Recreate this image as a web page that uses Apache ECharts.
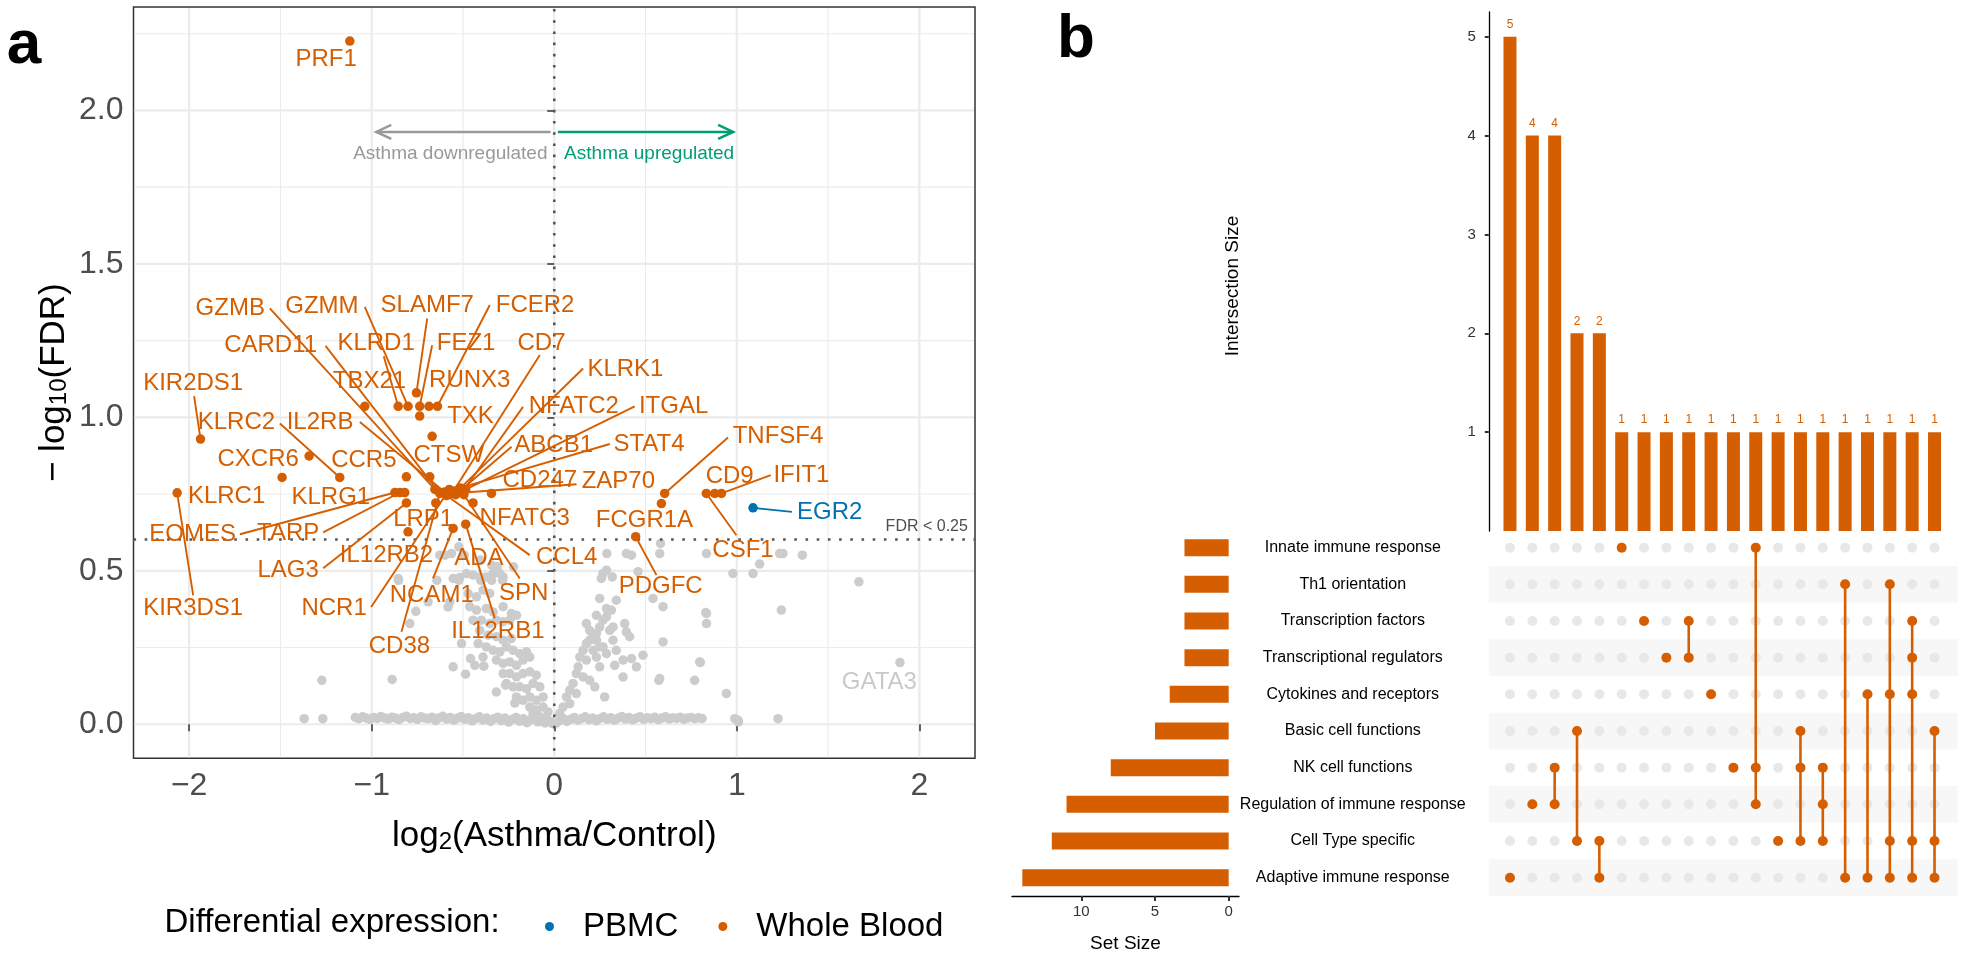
<!DOCTYPE html>
<html><head><meta charset="utf-8">
<script src="https://cdn.jsdelivr.net/npm/echarts@6/dist/echarts.min.js"></script>
<style>html,body{margin:0;padding:0;background:#fff}#c{width:1962px;height:956px}</style>
</head><body><div id="c"></div>
<script>
// ---------------- DATA: panel a (volcano) ----------------
const xTicks = [-2, -1, 0, 1, 2];
const yTicks = [0, 0.5, 1, 1.5, 2];
const fdrCutoff = 0.25;

// not significant genes (grey)
const grayPoints = [
  [1.894,0.201],
  [-0.481,0.491],[-0.445,0.486],[-0.408,0.480],[-0.372,0.480],[-0.335,0.491],[-0.298,0.491],[-0.280,0.480],
  [-0.472,0.426],[-0.426,0.415],[-0.390,0.437],[-0.353,0.426],
  [-0.463,0.383],[-0.426,0.372],[-0.372,0.377],[-0.335,0.366],[-0.280,0.383],[-0.235,0.361],[-0.207,0.355],
  [-0.445,0.339],[-0.399,0.339],[-0.353,0.328],[-0.317,0.339],[-0.280,0.334],[-0.244,0.339],
  [-0.408,0.306],[-0.362,0.290],[-0.317,0.285],[-0.280,0.274],[-0.235,0.279],
  [-0.372,0.252],[-0.335,0.241],[-0.298,0.236],[-0.262,0.252],[-0.225,0.241],[-0.189,0.230],[-0.152,0.236],
  [-0.317,0.209],[-0.280,0.198],[-0.244,0.203],[-0.207,0.192],[-0.171,0.209],[-0.134,0.219],
  [-0.280,0.165],[-0.244,0.165],[-0.207,0.154],[-0.171,0.165],[-0.134,0.171],[-0.098,0.160],
  [-0.262,0.133],[-0.225,0.122],[-0.189,0.122],[-0.152,0.116],[-0.116,0.133],[-0.079,0.122],
  [-0.207,0.089],[-0.171,0.078],[-0.134,0.089],[-0.098,0.078],[-0.061,0.089],
  [-0.134,0.056],[-0.098,0.046],[-0.061,0.056],[-0.034,0.040],
  [-0.116,0.035],[-0.079,0.024],[-0.043,0.018],[-0.016,0.008],
  [-0.888,0.146],[-0.554,0.187],[-0.486,0.163],[-0.459,0.214],[-0.435,0.192],[-0.390,0.219],[-0.386,0.189],
  [-0.317,0.105],[-0.267,0.127],[-0.216,0.069],[-0.508,0.263],[-0.417,0.263],[-0.758,0.368],[-0.791,0.328],
  [-0.855,0.475],[-0.691,0.399],[-0.582,0.382],[-0.572,0.399],[-0.627,0.551],[-0.563,0.556],[-0.554,0.475],
  [-0.518,0.478],[-1.273,0.143],
  [-0.598,0.551],[-0.523,0.578],[-0.493,0.551],[-0.403,0.535],[-0.343,0.518],[-0.313,0.513],[-0.223,0.513],
  [-0.853,0.469],[-0.643,0.469],[-0.523,0.469],[-0.403,0.469],[-0.343,0.469],[-0.283,0.469],
  [0.030,0.035],[0.048,0.056],[0.067,0.089],[0.085,0.111],[0.103,0.133],[0.121,0.165],[0.131,0.187],[0.140,0.219],
  [0.158,0.241],[0.176,0.263],[0.194,0.274],[0.213,0.285],[0.231,0.296],[0.249,0.317],[0.267,0.339],[0.286,0.350],
  [0.304,0.306],[0.322,0.317],[0.213,0.241],[0.231,0.219],[0.267,0.252],[0.286,0.230],[0.249,0.187],[0.322,0.274],
  [0.340,0.241],[0.176,0.209],[0.158,0.154],[0.194,0.143],[0.222,0.122],[0.121,0.100],[0.085,0.067],[0.176,0.328],
  [0.194,0.306],[0.231,0.274],[0.249,0.252],[0.331,0.192],[0.377,0.209],[0.423,0.214],[0.486,0.225],[0.377,0.154],
  [0.450,0.187],[0.386,0.328],[0.395,0.301],[0.413,0.285],[0.276,0.089],[0.578,0.149],[0.596,0.268],[0.797,0.203],
  [0.769,0.143],[0.943,0.100],[0.231,0.355],[0.286,0.377],[0.313,0.372],[0.340,0.404],[0.249,0.410],[0.267,0.491],
  [0.286,0.502],[0.395,0.556],[0.423,0.551],[0.459,0.497],[0.541,0.410],[0.596,0.383],[0.834,0.361],[0.834,0.328],
  [1.244,0.372],[1.226,0.018],[0.989,0.018],[1.007,0.013],[0.979,0.491],[1.089,0.491],[1.125,0.522],[0.834,0.556],
  [1.235,0.556],[1.253,0.556],[1.359,0.551],[0.578,0.556],[1.669,0.464],[0.582,0.589],[0.288,0.556],[0.258,0.475],
  [0.318,0.480],[0.800,0.201],[0.573,0.143],[0.830,0.364],
  [-1.370,0.018],[-1.268,0.018],[1.009,0.008],
  [-1.09,0.022],[-1.07,0.018],[-1.05,0.024],[-1.03,0.020],[-1.01,0.016],[-0.99,0.022],[-0.97,0.019],[-0.95,0.025],
  [-0.93,0.020],[-0.91,0.017],[-0.89,0.023],[-0.87,0.020],[-0.85,0.015],[-0.83,0.022],[-0.81,0.026],[-0.79,0.019],
  [-0.77,0.021],[-0.75,0.016],[-0.73,0.024],[-0.71,0.020],[-0.69,0.018],[-0.67,0.023],[-0.65,0.012],[-0.63,0.021],
  [-0.61,0.026],[-0.59,0.017],[-0.57,0.022],[-0.55,0.013],[-0.53,0.020],[-0.51,0.025],[-0.49,0.016],[-0.47,0.021],
  [-0.45,0.011],[-0.43,0.019],[-0.41,0.024],[-0.39,0.014],[-0.37,0.020],[-0.35,0.009],[-0.33,0.018],[-0.31,0.023],
  [-0.29,0.012],[-0.27,0.020],[-0.25,0.007],[-0.23,0.016],[-0.21,0.022],[-0.19,0.010],[-0.17,0.018],[-0.15,0.005],
  [-0.13,0.014],[-0.11,0.020],[-0.09,0.008],[-0.07,0.015],[-0.05,0.004],[-0.03,0.011],[-0.01,0.002],[0.01,0.003],
  [0.03,0.012],[0.05,0.018],[0.07,0.009],[0.09,0.016],[0.11,0.022],[0.13,0.013],[0.15,0.019],[0.17,0.024],
  [0.19,0.015],[0.21,0.020],[0.23,0.011],[0.25,0.019],[0.27,0.024],[0.29,0.016],[0.31,0.021],[0.33,0.013],
  [0.35,0.020],[0.37,0.025],[0.39,0.017],[0.41,0.022],[0.43,0.014],[0.45,0.020],[0.47,0.024],[0.49,0.016],
  [0.51,0.021],[0.53,0.018],[0.55,0.023],[0.57,0.015],[0.59,0.020],[0.61,0.024],[0.63,0.017],[0.65,0.021],
  [0.67,0.019],[0.69,0.023],[0.71,0.016],[0.73,0.020],[0.75,0.022],[0.77,0.018],[0.79,0.021],[0.81,0.019]
];

// significant in Whole Blood (orange)
const wbPoints = [
  [-1.120,2.226],[-1.038,1.036],[-0.855,1.036],[-0.801,1.036],[-0.737,1.036],[-0.686,1.036],[-0.640,1.036],
  [-0.755,1.080],[-0.737,1.004],[-0.669,0.938],[-0.810,0.806],[-0.682,0.806],[-0.873,0.755],[-0.846,0.755],
  [-0.819,0.755],[-0.810,0.721],[-0.801,0.627],[-0.649,0.721],[-0.554,0.638],[-0.485,0.652],[-0.445,0.721],
  [-0.344,0.752],[-0.654,0.765],[-0.627,0.752],[-0.600,0.757],[-0.575,0.765],[-0.552,0.760],[-0.527,0.762],
  [-0.505,0.755],[-0.485,0.765],[-0.540,0.748],[-0.515,0.770],[-0.565,0.752],[-0.495,0.748],[-0.590,0.745],
  [-1.938,0.929],[-1.343,0.874],[-1.491,0.804],[-1.175,0.804],[-2.066,0.754],
  [0.605,0.752],[0.587,0.719],[0.446,0.611],[0.833,0.752],[0.879,0.752],[0.916,0.752]
];
// significant in PBMC (blue)
const pbmcPoints = [[1.089,0.705]];

// gene labels (repelled positions, in data units)
const labelGenes = ['PRF1','GZMB','GZMM','SLAMF7','FCER2','CARD11','KLRD1','FEZ1','CD7','TBX21','RUNX3','KLRK1',
  'KIR2DS1','KLRC2','IL2RB','TXK','NFATC2','ITGAL','CXCR6','CCR5','CTSW','ABCB1','STAT4','TNFSF4','KLRC1','KLRG1',
  'CD247','ZAP70','CD9','IFIT1','EGR2','EOMES','TARP','LRP1','NFATC3','FCGR1A','CSF1','LAG3','IL12RB2','ADA','CCL4',
  'PDGFC','KIR3DS1','NCR1','NCAM1','SPN','IL12RB1','CD38','GATA3'];
const labelGroup = ['wb','wb','wb','wb','wb','wb','wb','wb','wb','wb','wb','wb','wb','wb','wb','wb','wb','wb','wb','wb',
  'wb','wb','wb','wb','wb','wb','wb','wb','wb','wb','pbmc','wb','wb','wb','wb','wb','wb','wb','wb','wb','wb','wb','wb',
  'wb','wb','wb','wb','wb','ns'];
const labelPointIdx = [0,22,3,7,6,23,2,4,26,1,5,27,35,38,24,8,28,29,37,10,9,30,31,40,39,38,21,32,44,45,0,12,13,16,20,41,
  43,15,17,19,34,42,39,25,18,33,19,23,0];
const labelPos = [[-1.250,2.166],[-1.775,1.354],[-1.273,1.362],[-0.696,1.366],[-0.105,1.366],[-1.554,1.235],
  [-0.976,1.241],[-0.483,1.241],[-0.070,1.241],[-1.012,1.116],[-0.463,1.121],[0.390,1.156],[-1.978,1.110],
  [-1.741,0.985],[-1.283,0.985],[-0.459,1.002],[0.107,1.036],[0.654,1.036],[-1.622,0.864],[-1.043,0.861],
  [-0.578,0.877],[-0.003,0.909],[0.519,0.912],[1.226,0.937],[-1.795,0.743],[-1.224,0.739],[-0.079,0.795],
  [0.351,0.790],[0.961,0.809],[1.354,0.812],[1.509,0.689],[-1.981,0.619],[-1.458,0.622],[-0.718,0.667],
  [-0.162,0.670],[0.494,0.665],[1.034,0.567],[-1.458,0.502],[-0.919,0.551],[-0.413,0.540],[0.068,0.545],
  [0.583,0.448],[-1.978,0.377],[-1.206,0.377],[-0.671,0.420],[-0.167,0.426],[-0.309,0.301],[-0.848,0.254],
  [1.781,0.138]];
const labelSegFrom = [null,[-1.558,1.355],[-1.038,1.360],[-0.696,1.322],[-0.353,1.366],[-1.253,1.233],
  [-0.934,1.199],[-0.669,1.235],[-0.079,1.203],null,null,[0.158,1.159],[-1.973,1.069],[-1.503,0.980],
  [-1.065,0.985],null,[-0.171,1.034],[0.441,1.036],null,null,null,[-0.234,0.904],[0.304,0.913],[0.952,0.934],
  null,null,null,[0.122,0.782],null,[1.186,0.812],[1.302,0.692],[-1.722,0.619],[-1.266,0.625],null,null,null,
  [0.998,0.616],[-1.266,0.508],null,null,[-0.134,0.551],[0.560,0.486],[-1.978,0.420],[-1.003,0.382],
  [-0.664,0.475],[-0.189,0.475],[-0.326,0.345],[-0.837,0.301],null];

// direction arrows and annotation texts
const arrowFrom = [-0.02, 0.02];
const arrowTo = [-0.975, 0.98];
const arrowY = 1.93;
const annoTexts = ['Asthma downregulated', 'Asthma upregulated', 'FDR < 0.25'];
const annoPos = [[-0.037,1.858],[0.054,1.858],[2.266,0.643]];

// ---------------- DATA: panel b (UpSet) ----------------
const setNames = ['Innate immune response','Th1 orientation','Transcription factors','Transcriptional regulators',
  'Cytokines and receptors','Basic cell functions','NK cell functions','Regulation of immune response',
  'Cell Type specific','Adaptive immune response'];
const setSizes = [3,3,3,3,4,5,8,11,12,14];
const setSizeTicks = [0,5,10];
const intersectionSizes = [5,4,4,2,2,1,1,1,1,1,1,1,1,1,1,1,1,1,1,1];
const intersectionSets = [[9],[7],[6,7],[5,8],[8,9],[0],[2],[3],[2,3],[4],[6],[0,6,7],[8],[5,6,8],[6,7,8],
  [1,9],[4,9],[1,4,8,9],[2,3,4,8,9],[5,8,9]];

// ---------------- styling ----------------
const FONT = "'Liberation Sans', Arial, Helvetica, sans-serif";
const ORANGE = '#D55E00', BLUE = '#0072B2', GREEN = '#009E73', NSGRAY = '#CCCCCC';
const groupColor = {wb: ORANGE, pbmc: BLUE, ns: '#C9C9C9'};
const groupPts = {wb: wbPoints, pbmc: pbmcPoints, ns: grayPoints};
const annoColors = ['#999999', GREEN, '#4D4D4D'];
const annoAlign = ['right', 'left', 'right'];
const annoSize = [19, 19, 16];
const arrowColors = ['#999999', GREEN];

function minus(v) { return v < 0 ? '\u2212' + Math.abs(v) : String(v); }

// gridlines (major at ticks, minor halfway)
const gridLines = [];
xTicks.forEach(v => gridLines.push([0, v, 1]));
for (let i = 0; i < xTicks.length - 1; i++) gridLines.push([0, (xTicks[i] + xTicks[i+1]) / 2, 0]);
yTicks.forEach(v => gridLines.push([1, v, 1]));
for (let i = 0; i < yTicks.length; i++) gridLines.push([1, yTicks[i] + 0.25, 0]);

const fdrLine = -Math.log10(fdrCutoff);

const segData = [];
const textData = [];
labelGenes.forEach((g, i) => {
  const p = groupPts[labelGroup[i]][labelPointIdx[i]];
  if (labelSegFrom[i]) segData.push([labelSegFrom[i][0], labelSegFrom[i][1], p[0], p[1], i]);
  textData.push([labelPos[i][0], labelPos[i][1], i]);
});

// UpSet matrix
const memberDots = [], emptyDots = [], matLines = [];
intersectionSets.forEach((s, c) => {
  for (let r = 0; r < setNames.length; r++) {
    if (s.indexOf(r) >= 0) memberDots.push([c, r]); else emptyDots.push([c, r]);
  }
  if (s.length > 1) matLines.push([c, Math.min.apply(null, s), Math.max.apply(null, s)]);
});
const colNames = intersectionSizes.map((v, i) => 'I' + (i + 1));

const chart = echarts.init(document.getElementById('c'), null, {renderer: 'canvas', width: 1962, height: 956});

const richSub = {
  a: {fontSize: 35, lineHeight: 44, verticalAlign: 'bottom', color: '#000', fontFamily: FONT},
  b: {fontSize: 24, lineHeight: 22, verticalAlign: 'bottom', color: '#000', fontFamily: FONT}
};

const option = {
  animation: false,
  backgroundColor: '#fff',
  textStyle: {fontFamily: FONT},
  grid: [
    {left: 133.5, top: 7, width: 841.5, height: 751.3, show: true, borderColor: '#333', borderWidth: 1.5, backgroundColor: 'rgba(0,0,0,0)'},
    {left: 1498.8, top: 12, width: 446.9, height: 519},
    {left: 1012, top: 529.3, width: 227, height: 366.7},
    {left: 1498.8, top: 529.3, width: 446.9, height: 366.7}
  ],
  xAxis: [
    {type: 'value', gridIndex: 0, min: -2.305, max: 2.305, splitLine: {show: false}, axisLine: {show: false},
      axisTick: {show: true, customValues: xTicks, length: 7, lineStyle: {color: '#333', width: 1.5}},
      axisLabel: {customValues: xTicks, formatter: v => minus(v), fontSize: 32, color: '#4D4D4D', margin: 12, fontFamily: FONT},
      name: '{a|log}{b|2}{a|(Asthma/Control)}', nameLocation: 'middle', nameGap: 52,
      nameTextStyle: {rich: richSub}},
    {type: 'category', gridIndex: 1, data: colNames, show: false},
    {type: 'value', gridIndex: 2, inverse: true, min: -0.7, max: 14.7, splitLine: {show: false},
      axisLine: {show: true, lineStyle: {color: '#000', width: 1.3}},
      axisTick: {show: true, customValues: setSizeTicks, length: 5, lineStyle: {color: '#333', width: 2}},
      axisLabel: {customValues: setSizeTicks, fontSize: 15, color: '#333', margin: 8, fontFamily: FONT},
      name: 'Set Size', nameLocation: 'middle', nameGap: 38, nameTextStyle: {fontSize: 19, color: '#000', fontFamily: FONT}},
    {type: 'category', gridIndex: 3, data: colNames, show: false}
  ],
  yAxis: [
    {type: 'value', gridIndex: 0, min: -0.111, max: 2.337, splitLine: {show: false}, axisLine: {show: false},
      axisTick: {show: true, customValues: yTicks, length: 7, lineStyle: {color: '#333', width: 1.5}},
      axisLabel: {customValues: yTicks, formatter: v => v.toFixed(1), fontSize: 32, color: '#4D4D4D', margin: 10, fontFamily: FONT},
      name: '{a|\u2212 log}{b|10}{a|(FDR)}', nameLocation: 'middle', nameGap: 62, nameRotate: 90,
      nameTextStyle: {rich: richSub}},
    {type: 'value', gridIndex: 1, min: 0, max: 5.25, interval: 1, offset: 10, splitLine: {show: false},
      axisLine: {show: true, lineStyle: {color: '#000', width: 1.3}},
      axisTick: {show: true, length: 4, lineStyle: {color: '#333', width: 2}},
      axisLabel: {showMinLabel: false, showMaxLabel: false, fontSize: 15, color: '#333', margin: 13, fontFamily: FONT}},
    {type: 'category', gridIndex: 2, data: setNames, inverse: true, show: false},
    {type: 'category', gridIndex: 3, data: setNames, inverse: true, axisLine: {show: false}, axisTick: {show: false},
      axisLabel: {align: 'center', margin: 146, fontSize: 16, color: '#000', fontFamily: FONT}}
  ],
  legend: {
    data: ['PBMC', 'Whole Blood'], left: 540, top: 905, icon: 'circle', itemWidth: 9, itemHeight: 9, itemGap: 40,
    selectedMode: false, textStyle: {fontSize: 33, color: '#000', fontFamily: FONT, padding: [0, 0, 0, 24]}
  },
  graphic: [
    {type: 'text', x: 24, y: 46, style: {text: 'a', font: "bold 62px " + FONT, fill: '#000', align: 'center', verticalAlign: 'middle', textAlign: 'center', textVerticalAlign: 'middle'}},
    {type: 'text', x: 1076, y: 40, style: {text: 'b', font: "bold 62px " + FONT, fill: '#000', align: 'center', verticalAlign: 'middle', textAlign: 'center', textVerticalAlign: 'middle'}},
    {type: 'text', x: 164.5, y: 923, style: {text: 'Differential expression:', font: "33px " + FONT, fill: '#000', align: 'left', verticalAlign: 'middle', textAlign: 'left', textVerticalAlign: 'middle'}},
    {type: 'text', x: 1233, y: 286, rotation: Math.PI / 2, style: {text: 'Intersection Size', font: "19px " + FONT, fill: '#000', align: 'center', verticalAlign: 'middle', textAlign: 'center', textVerticalAlign: 'middle'}}
  ],
  series: [
    // gridlines
    {type: 'custom', xAxisIndex: 0, yAxisIndex: 0, z: 0, silent: true, data: gridLines,
      renderItem(params, api) {
        const cs = params.coordSys, dir = api.value(0), v = api.value(1), major = api.value(2);
        let shape;
        if (dir === 0) { const x = api.coord([v, 0])[0]; shape = {x1: x, y1: cs.y + 1, x2: x, y2: cs.y + cs.height - 1}; }
        else { const y = api.coord([0, v])[1]; shape = {x1: cs.x + 1, y1: y, x2: cs.x + cs.width - 1, y2: y}; }
        return {type: 'line', shape, style: {stroke: '#EBEBEB', lineWidth: major ? 2.2 : 1.1}};
      }},
    // grey genes
    {type: 'scatter', name: 'ns', xAxisIndex: 0, yAxisIndex: 0, z: 1, silent: true, data: grayPoints,
      symbolSize: 9.5, itemStyle: {color: NSGRAY, opacity: 1}},
    // threshold lines
    {type: 'custom', xAxisIndex: 0, yAxisIndex: 0, z: 2, silent: true, data: [[0, 0], [1, fdrLine]],
      renderItem(params, api) {
        const cs = params.coordSys, dir = api.value(0), v = api.value(1);
        let shape;
        if (dir === 0) { const x = api.coord([v, 0])[0]; shape = {x1: x, y1: cs.y + 2, x2: x, y2: cs.y + cs.height}; }
        else { const y = api.coord([0, v])[1]; shape = {x1: cs.x, y1: y, x2: cs.x + cs.width, y2: y}; }
        return {type: 'line', shape, style: {stroke: '#555555', lineWidth: 2.6, lineDash: [2.6, 8.6]}};
      }},
    // arrows
    {type: 'custom', xAxisIndex: 0, yAxisIndex: 0, z: 2, silent: true, data: arrowFrom.map((v, i) => [v, arrowY, arrowTo[i], i]),
      renderItem(params, api) {
        const p0 = api.coord([api.value(0), api.value(1)]);
        const p1 = api.coord([api.value(2), api.value(1)]);
        const col = arrowColors[api.value(3)];
        const d = p1[0] > p0[0] ? 1 : -1;
        return {type: 'group', children: [
          {type: 'line', shape: {x1: p0[0], y1: p0[1], x2: p1[0], y2: p1[1]}, style: {stroke: col, lineWidth: 2.5}},
          {type: 'polyline', shape: {points: [[p1[0] - d * 15, p1[1] - 7], [p1[0], p1[1]], [p1[0] - d * 15, p1[1] + 7]]},
            style: {stroke: col, lineWidth: 2.5, fill: null}}
        ]};
      }},
    // annotation texts
    {type: 'custom', xAxisIndex: 0, yAxisIndex: 0, z: 2, silent: true, data: annoPos.map((p, i) => [p[0], p[1], i]),
      renderItem(params, api) {
        const i = api.value(2), p = api.coord([api.value(0), api.value(1)]);
        return {type: 'text', x: p[0], y: p[1], style: {text: annoTexts[i], fill: annoColors[i],
          font: annoSize[i] + 'px ' + FONT, align: annoAlign[i], verticalAlign: 'middle', textAlign: annoAlign[i], textVerticalAlign: 'middle'}};
      }},
    // significant genes
    {type: 'scatter', name: 'Whole Blood', xAxisIndex: 0, yAxisIndex: 0, z: 3, data: wbPoints,
      symbolSize: 9.5, itemStyle: {color: ORANGE, opacity: 1}},
    {type: 'scatter', name: 'PBMC', xAxisIndex: 0, yAxisIndex: 0, z: 3, data: pbmcPoints,
      symbolSize: 9.5, itemStyle: {color: BLUE, opacity: 1}},
    // label segments
    {type: 'custom', xAxisIndex: 0, yAxisIndex: 0, z: 4, silent: true, data: segData,
      renderItem(params, api) {
        const a = api.coord([api.value(0), api.value(1)]), b = api.coord([api.value(2), api.value(3)]);
        const i = api.value(4);
        return {type: 'line', shape: {x1: a[0], y1: a[1], x2: b[0], y2: b[1]}, style: {stroke: groupColor[labelGroup[i]], lineWidth: 1.9}};
      }},
    // labels
    {type: 'custom', xAxisIndex: 0, yAxisIndex: 0, z: 5, silent: true, data: textData,
      renderItem(params, api) {
        const i = api.value(2), p = api.coord([api.value(0), api.value(1)]);
        return {type: 'text', x: p[0], y: p[1], style: {text: labelGenes[i], fill: groupColor[labelGroup[i]],
          font: '24px ' + FONT, align: 'center', verticalAlign: 'middle', textAlign: 'center', textVerticalAlign: 'middle'}};
      }},
    // ---- UpSet: intersection bars
    {type: 'bar', xAxisIndex: 1, yAxisIndex: 1, data: intersectionSizes, barWidth: 13, silent: true,
      itemStyle: {color: ORANGE},
      label: {show: true, position: 'top', distance: 6, color: ORANGE, fontSize: 12, fontFamily: FONT}},
    // set size bars
    {type: 'bar', xAxisIndex: 2, yAxisIndex: 2, data: setSizes, barWidth: 17, silent: true, itemStyle: {color: ORANGE}},
    // matrix stripes
    {type: 'custom', xAxisIndex: 3, yAxisIndex: 3, z: 0, silent: true, data: [[0, 1], [0, 3], [0, 5], [0, 7], [0, 9]],
      renderItem(params, api) {
        const cs = params.coordSys;
        const y = api.coord([0, api.value(1)])[1], h = api.size([0, 1])[1];
        return {type: 'rect', shape: {x: cs.x - 10, y: y - h / 2, width: cs.width + 22, height: h}, style: {fill: '#F7F7F7'}};
      }},
    {type: 'scatter', xAxisIndex: 3, yAxisIndex: 3, z: 1, silent: true, data: emptyDots, symbolSize: 10,
      itemStyle: {color: '#E8E8E8', opacity: 1}},
    {type: 'custom', xAxisIndex: 3, yAxisIndex: 3, z: 2, silent: true, data: matLines,
      renderItem(params, api) {
        const a = api.coord([api.value(0), api.value(1)]), b = api.coord([api.value(0), api.value(2)]);
        return {type: 'line', shape: {x1: a[0], y1: a[1], x2: b[0], y2: b[1]}, style: {stroke: ORANGE, lineWidth: 2.6}};
      }},
    {type: 'scatter', xAxisIndex: 3, yAxisIndex: 3, z: 3, silent: true, data: memberDots, symbolSize: 10,
      itemStyle: {color: ORANGE, opacity: 1}}
  ]
};
chart.setOption(option);
</script></body></html>
